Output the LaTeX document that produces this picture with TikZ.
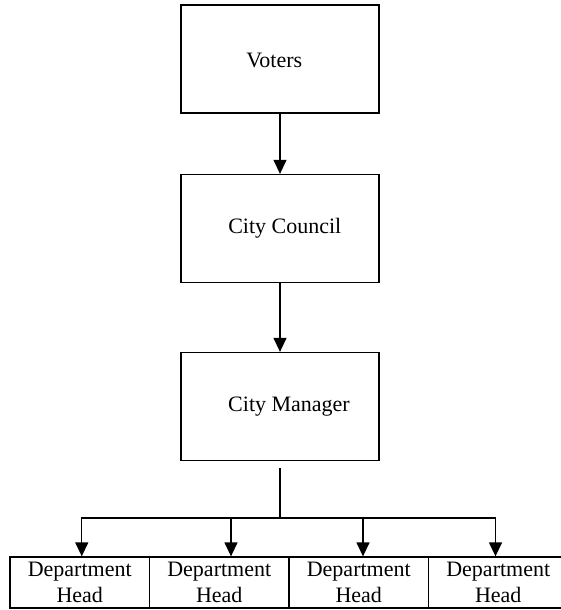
\documentclass[tikz,border=0pt]{standalone}
\usepackage{fontspec}
\setmainfont{Liberation Serif}
\usetikzlibrary{calc, arrows.meta}

\begin{document}
\begin{tikzpicture}[x=1pt, y=-1pt,
    every node/.style={font=\fontsize{22}{26}\selectfont},
    box/.style={draw, line width=1.3pt, minimum width=198pt, minimum height=108pt, inner sep=0pt},
    cell/.style={draw, line width=1.3pt, minimum width=139.5pt, minimum height=51pt, inner sep=0pt, align=center},
    link/.style={line width=1.3pt, -{Triangle[length=14pt, width=13pt]}}]

    % Fix the page size (image coordinates, y downwards)
    \useasboundingbox (0,0) rectangle (561,610);

    % --- The three boxes of the chain ---
    \node[box, label={[anchor=base, xshift=-5.7pt, yshift=-1pt]center:Voters}] (voters) at (280,59) {};
    \node[box, label={[anchor=base, xshift=4.8pt]center:City Council}] (council) at (280,228.5) {};
    \node[box, label={[anchor=base, xshift=9pt]center:City Manager}] (manager) at (280,406.5) {};

    % --- The row of department heads ---
    \node[cell] (dept1) at (79.75,582.5) {Department\\Head};
    \node[cell] (dept2) at (219.25,582.5) {Department\\Head};
    \node[cell] (dept3) at (358.75,582.5) {Department\\Head};
    \node[cell] (dept4) at (498.25,582.5) {Department\\Head};

    % Branch point under the manager
    \coordinate (split) at (280,518);

    % Arrows down the chain
    \draw[link] (voters) -- (council);
    \draw[link] (council) -- (manager);

    % Line from the manager to the branch point
    \draw[line width=1.3pt] ([yshift=-7pt]manager.south) -- (split);

    % Arrows to each department head
    \draw[link] (split) -| ([xshift=2pt]dept1.north);
    \draw[link] (split) -| ([xshift=11.75pt]dept2.north);
    \draw[link] (split) -| ([xshift=4.25pt]dept3.north);
    \draw[link] (split) -| ([xshift=-2.75pt]dept4.north);
\end{tikzpicture}
\end{document}
